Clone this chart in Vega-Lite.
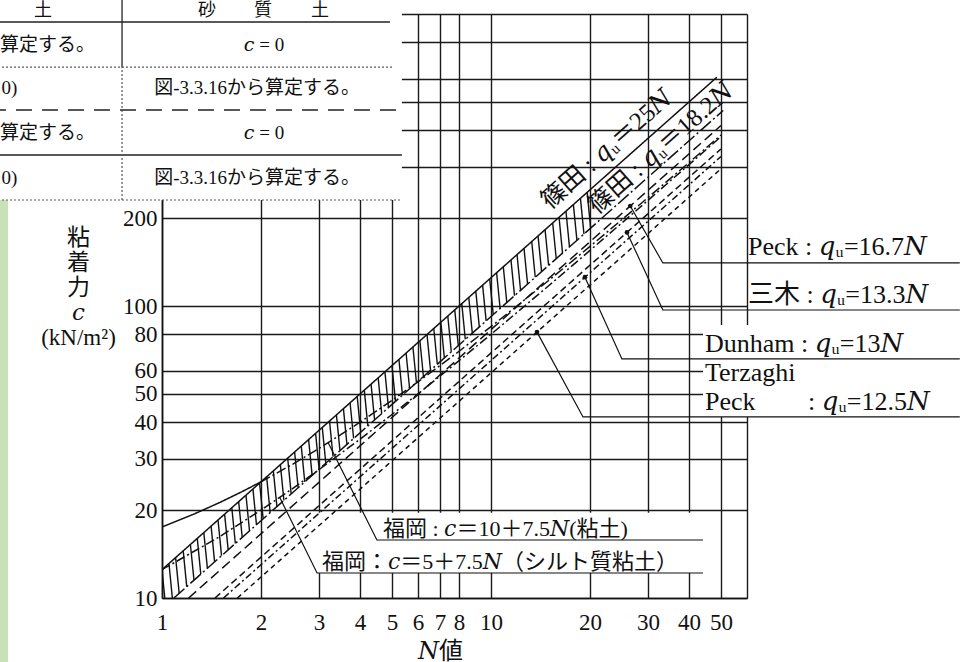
{
  "$schema": "https://vega.github.io/schema/vega-lite/v6.json",
  "width": 585,
  "height": 584,
  "autosize": {"type": "none"},
  "padding": {"left": 162, "top": 14, "right": 215, "bottom": 64},
  "background": "white",
  "config": {
    "view": {"stroke": null},
    "text": {"font": "Liberation Serif, DejaVu Serif, Noto Sans CJK JP", "color": "#111"}
  },
  "datasets": {
    "lines": [
      {"s": "篠田25N", "n": 1, "c": 12.5}, {"s": "篠田25N", "n": 48.6, "c": 607.5},
      {"s": "篠田18.2N", "n": 1.087, "c": 10}, {"s": "篠田18.2N", "n": 50.8, "c": 467.4},
      {"s": "Peck16.7N", "n": 1.205, "c": 10}, {"s": "Peck16.7N", "n": 50, "c": 415},
      {"s": "三木13.3N", "n": 1.449, "c": 10}, {"s": "三木13.3N", "n": 50, "c": 345},
      {"s": "Dunham13N", "n": 1.538, "c": 10}, {"s": "Dunham13N", "n": 50, "c": 325},
      {"s": "TerzaghiPeck12.5N", "n": 1.695, "c": 10}, {"s": "TerzaghiPeck12.5N", "n": 50, "c": 295},
      {"s": "福岡粘土(N≤2)", "n": 1, "c": 17.5}, {"s": "福岡粘土(N≤2)", "n": 1.25, "c": 19.375},
      {"s": "福岡粘土(N≤2)", "n": 1.5, "c": 21.25}, {"s": "福岡粘土(N≤2)", "n": 1.75, "c": 23.125},
      {"s": "福岡粘土(N≤2)", "n": 2, "c": 25},
      {"s": "福岡粘土(N≥2)", "n": 2, "c": 25}, {"s": "福岡粘土(N≥2)", "n": 2.5, "c": 28.75},
      {"s": "福岡粘土(N≥2)", "n": 3, "c": 32.5}, {"s": "福岡粘土(N≥2)", "n": 4, "c": 40},
      {"s": "福岡粘土(N≥2)", "n": 5, "c": 47.5}, {"s": "福岡粘土(N≥2)", "n": 6, "c": 55},
      {"s": "福岡粘土(N≥2)", "n": 8, "c": 70}, {"s": "福岡粘土(N≥2)", "n": 10, "c": 85},
      {"s": "福岡粘土(N≥2)", "n": 15, "c": 122.5}, {"s": "福岡粘土(N≥2)", "n": 20, "c": 160},
      {"s": "福岡粘土(N≥2)", "n": 30, "c": 235}, {"s": "福岡粘土(N≥2)", "n": 40, "c": 310},
      {"s": "福岡粘土(N≥2)", "n": 50, "c": 385},
      {"s": "福岡シルト質粘土", "n": 1, "c": 12.5}, {"s": "福岡シルト質粘土", "n": 1.5, "c": 16.25},
      {"s": "福岡シルト質粘土", "n": 2, "c": 20}, {"s": "福岡シルト質粘土", "n": 2.5, "c": 23.75},
      {"s": "福岡シルト質粘土", "n": 3, "c": 27.5}, {"s": "福岡シルト質粘土", "n": 4, "c": 35},
      {"s": "福岡シルト質粘土", "n": 5, "c": 42.5}, {"s": "福岡シルト質粘土", "n": 6, "c": 50},
      {"s": "福岡シルト質粘土", "n": 8, "c": 65}, {"s": "福岡シルト質粘土", "n": 10, "c": 80},
      {"s": "福岡シルト質粘土", "n": 15, "c": 117.5}, {"s": "福岡シルト質粘土", "n": 20, "c": 155},
      {"s": "福岡シルト質粘土", "n": 30, "c": 230}, {"s": "福岡シルト質粘土", "n": 40, "c": 305},
      {"s": "福岡シルト質粘土", "n": 50, "c": 380}
    ],
    "hatch": [
      {"n": 1.00, "c": 12.5, "n2": 1.025, "c2": 9.43},
      {"n": 1.05, "c": 13.13, "n2": 1.076, "c2": 9.90},
      {"n": 1.10, "c": 13.75, "n2": 1.128, "c2": 10.37},
      {"n": 1.16, "c": 14.5, "n2": 1.189, "c2": 10.94},
      {"n": 1.22, "c": 15.25, "n2": 1.251, "c2": 11.50},
      {"n": 1.28, "c": 16.0, "n2": 1.312, "c2": 12.07},
      {"n": 1.34, "c": 16.75, "n2": 1.374, "c2": 12.64},
      {"n": 1.41, "c": 17.63, "n2": 1.445, "c2": 13.30},
      {"n": 1.48, "c": 18.5, "n2": 1.517, "c2": 13.96},
      {"n": 1.55, "c": 19.38, "n2": 1.589, "c2": 14.62},
      {"n": 1.63, "c": 20.38, "n2": 1.671, "c2": 15.37},
      {"n": 1.71, "c": 21.38, "n2": 1.753, "c2": 16.13},
      {"n": 1.80, "c": 22.5, "n2": 1.845, "c2": 16.97},
      {"n": 1.89, "c": 23.63, "n2": 1.937, "c2": 17.82},
      {"n": 1.98, "c": 24.75, "n2": 2.030, "c2": 18.67},
      {"n": 2.08, "c": 26.0, "n2": 2.132, "c2": 19.61},
      {"n": 2.18, "c": 27.25, "n2": 2.235, "c2": 20.56},
      {"n": 2.29, "c": 28.63, "n2": 2.347, "c2": 21.59},
      {"n": 2.41, "c": 30.13, "n2": 2.470, "c2": 22.73},
      {"n": 2.53, "c": 31.63, "n2": 2.593, "c2": 23.86},
      {"n": 2.65, "c": 33.13, "n2": 2.716, "c2": 24.99},
      {"n": 2.79, "c": 34.88, "n2": 2.860, "c2": 26.31},
      {"n": 2.93, "c": 36.63, "n2": 3.003, "c2": 27.63},
      {"n": 3.07, "c": 38.38, "n2": 3.147, "c2": 28.95},
      {"n": 3.23, "c": 40.38, "n2": 3.311, "c2": 30.46},
      {"n": 3.39, "c": 42.38, "n2": 3.475, "c2": 31.97},
      {"n": 3.56, "c": 44.5, "n2": 3.649, "c2": 33.57},
      {"n": 3.73, "c": 46.63, "n2": 3.823, "c2": 35.17},
      {"n": 3.92, "c": 49.0, "n2": 4.018, "c2": 36.97},
      {"n": 4.12, "c": 51.5, "n2": 4.223, "c2": 38.85},
      {"n": 4.32, "c": 54.0, "n2": 4.428, "c2": 40.74},
      {"n": 4.54, "c": 56.75, "n2": 4.654, "c2": 42.81},
      {"n": 4.76, "c": 59.5, "n2": 4.879, "c2": 44.89},
      {"n": 5.00, "c": 62.5, "n2": 5.125, "c2": 47.15},
      {"n": 5.25, "c": 65.63, "n2": 5.381, "c2": 49.51},
      {"n": 5.52, "c": 69.0, "n2": 5.658, "c2": 52.05},
      {"n": 5.79, "c": 72.38, "n2": 5.935, "c2": 54.60},
      {"n": 6.08, "c": 76.0, "n2": 6.232, "c2": 57.33},
      {"n": 6.39, "c": 79.88, "n2": 6.550, "c2": 60.26},
      {"n": 6.70, "c": 83.75, "n2": 6.868, "c2": 63.18},
      {"n": 7.04, "c": 88.0, "n2": 7.216, "c2": 66.39},
      {"n": 7.39, "c": 92.38, "n2": 7.575, "c2": 69.69},
      {"n": 7.76, "c": 97.0, "n2": 7.954, "c2": 73.18},
      {"n": 8.15, "c": 101.9, "n2": 8.354, "c2": 76.86},
      {"n": 8.56, "c": 107.0, "n2": 8.774, "c2": 80.72},
      {"n": 8.99, "c": 112.4, "n2": 9.215, "c2": 84.78},
      {"n": 9.43, "c": 117.9, "n2": 9.666, "c2": 88.93},
      {"n": 9.91, "c": 123.9, "n2": 10.16, "c2": 93.45},
      {"n": 10.4, "c": 130.0, "n2": 10.66, "c2": 98.07},
      {"n": 10.9, "c": 136.3, "n2": 11.17, "c2": 102.8},
      {"n": 11.5, "c": 143.8, "n2": 11.79, "c2": 108.4},
      {"n": 12.0, "c": 150.0, "n2": 12.30, "c2": 113.2},
      {"n": 12.6, "c": 157.5, "n2": 12.92, "c2": 118.8},
      {"n": 13.3, "c": 166.3, "n2": 13.63, "c2": 125.4},
      {"n": 13.9, "c": 173.8, "n2": 14.25, "c2": 131.1},
      {"n": 14.6, "c": 182.5, "n2": 14.97, "c2": 137.7},
      {"n": 15.4, "c": 192.5, "n2": 15.79, "c2": 145.2},
      {"n": 16.1, "c": 201.3, "n2": 16.50, "c2": 151.8},
      {"n": 16.9, "c": 211.3, "n2": 17.32, "c2": 159.4},
      {"n": 17.8, "c": 222.5, "n2": 18.25, "c2": 167.8},
      {"n": 18.7, "c": 233.8, "n2": 19.17, "c2": 176.3},
      {"n": 19.6, "c": 245.0, "n2": 20.09, "c2": 184.8}
    ],
    "leaders": [
      {"id": "peck167", "o": 1, "n": 26.5, "c": 220}, {"id": "peck167", "o": 2, "n": 33.3, "c": 140.4}, {"id": "peck167", "o": 3, "n": 266, "c": 140.4},
      {"id": "miki", "o": 1, "n": 25.9, "c": 178.7}, {"id": "miki", "o": 2, "n": 33.3, "c": 96.9}, {"id": "miki", "o": 3, "n": 266, "c": 96.9},
      {"id": "dunham", "o": 1, "n": 19.3, "c": 125.5}, {"id": "dunham", "o": 2, "n": 25.0, "c": 65.9}, {"id": "dunham", "o": 3, "n": 266, "c": 65.9},
      {"id": "tp", "o": 1, "n": 13.8, "c": 81.4}, {"id": "tp", "o": 2, "n": 19.04, "c": 41.7}, {"id": "tp", "o": 3, "n": 266, "c": 41.7},
      {"id": "fk1", "o": 1, "n": 3.2, "c": 34}, {"id": "fk1", "o": 2, "n": 4.5, "c": 15.8}, {"id": "fk1", "o": 3, "n": 44.1, "c": 15.8},
      {"id": "fk2", "o": 1, "n": 2.28, "c": 22.1}, {"id": "fk2", "o": 2, "n": 2.96, "c": 12.18}, {"id": "fk2", "o": 3, "n": 44.1, "c": 12.18}
    ],
    "leaderTips": [
      {"n": 26.5, "c": 220},
      {"n": 25.9, "c": 178.7},
      {"n": 19.3, "c": 125.5},
      {"n": 13.8, "c": 81.4}
    ],
    "whiteBoxes": [
      {"n": 0.3, "n2": 5.36, "c": 230.7, "c2": 1200},
      {"n": 44.1, "n2": 300, "c": 41.7, "c2": 86.1},
      {"n": 2.98, "n2": 44.1, "c": 12.18, "c2": 19.6}
    ],
    "strip": [
      {"n": 0.3, "n2": 0.3404, "c": 5.5, "c2": 230.7}
    ],
    "rulesSolid": [
      {"n": 0.3, "n2": 4.93, "c": 939, "c2": 939},
      {"n": 0.3, "n2": 5.36, "c": 329, "c2": 329},
      {"n": 0.756, "n2": 0.756, "c": 658, "c2": 1200}
    ],
    "rulesDashed": [
      {"n": 0.3, "n2": 5.36, "c": 469, "c2": 469}
    ],
    "rulesDotted": [
      {"n": 0.3, "n2": 5.0, "c": 658, "c2": 658},
      {"n": 0.3, "n2": 5.36, "c": 230.7, "c2": 230.7},
      {"n": 0.756, "n2": 0.756, "c": 230.7, "c2": 658}
    ],
    "tableLeft": [
      {"t": "算定する。", "n": 0.322, "c": 783},
      {"t": "0)", "n": 0.325, "c": 558},
      {"t": "算定する。", "n": 0.322, "c": 391},
      {"t": "0)", "n": 0.325, "c": 274.5}
    ],
    "tableCenter": [
      {"t": "𝑐 = 0", "n": 2.042, "c": 783},
      {"t": "図-3.3.16から算定する。", "n": 1.945, "c": 558},
      {"t": "𝑐 = 0", "n": 2.042, "c": 391},
      {"t": "図-3.3.16から算定する。", "n": 1.945, "c": 274.5}
    ],
    "tableHead": [
      {"t": "土", "n": 0.4348, "c": 1100},
      {"t": "砂", "n": 1.370, "c": 1100},
      {"t": "質", "n": 2.028, "c": 1100},
      {"t": "土", "n": 3.021, "c": 1100}
    ],
    "bandLabels": [
      {"t": "篠田 : 𝑞ᵤ＝25𝑁", "n": 15.1, "c": 213},
      {"t": "篠田 : 𝑞ᵤ＝18.2𝑁", "n": 21.0, "c": 205}
    ],
    "sideLabels": [
      {"t": "Peck : 𝑞ᵤ=16.7𝑁", "n": 60.4, "c": 149.5},
      {"t": "三木 : 𝑞ᵤ=13.3𝑁", "n": 60.4, "c": 102.4},
      {"t": "Dunham : 𝑞ᵤ=13𝑁", "n": 44.7, "c": 69.6},
      {"t": "Terzaghi", "n": 44.7, "c": 55.4},
      {"t": "Peck", "n": 44.7, "c": 44.0},
      {"t": ": 𝑞ᵤ=12.5𝑁", "n": 91.9, "c": 44.0}
    ],
    "fukuokaLabels": [
      {"t": "福岡 : 𝑐＝10＋7.5𝑁(粘土)", "n": 4.696, "c": 16.3},
      {"t": "福岡：𝑐＝5＋7.5𝑁（シルト質粘土）", "n": 3.064, "c": 12.57}
    ]
  },
  "encoding": {
    "x": {
      "field": "n",
      "type": "quantitative",
      "scale": {"type": "log", "domain": [1, 60], "nice": false},
      "axis": {
        "values": [1, 2, 3, 4, 5, 6, 7, 8, 10, 20, 30, 40, 50, 60],
        "labelExpr": "datum.value < 60 ? '' + datum.value : ''",
        "grid": true,
        "gridColor": "#1a1a1a",
        "gridWidth": 1.4,
        "gridOpacity": 1,
        "ticks": false,
        "domainColor": "#111",
        "domainWidth": 1.6,
        "labelFont": "Liberation Serif",
        "labelFontSize": 23,
        "labelColor": "#111",
        "labelPadding": 13,
        "labelOverlap": false,
        "labelFlush": false,
        "labelBound": false,
        "title": "𝑁値",
        "titleFont": "Liberation Serif, DejaVu Serif, Noto Sans CJK JP",
        "titleFontSize": 24,
        "titleFontWeight": "normal",
        "titleColor": "#111",
        "titleX": 278,
        "titleY": 53,
        "titleAlign": "center",
        "titleBaseline": "middle"
      }
    },
    "y": {
      "field": "c",
      "type": "quantitative",
      "scale": {"type": "log", "domain": [10, 1000], "nice": false},
      "axis": {
        "values": [10, 20, 30, 40, 50, 60, 80, 100, 200, 300, 400, 500, 600, 800, 1000],
        "labelExpr": "datum.value <= 200 ? '' + datum.value : ''",
        "grid": true,
        "gridColor": "#1a1a1a",
        "gridWidth": 1.4,
        "gridOpacity": 1,
        "ticks": false,
        "domainColor": "#111",
        "domainWidth": 1.6,
        "labelFont": "Liberation Serif",
        "labelFontSize": 23,
        "labelColor": "#111",
        "labelPadding": 5,
        "labelOverlap": false,
        "labelFlush": false,
        "labelBound": false,
        "title": ["粘", "着", "力", "𝑐", "(kN/m²)"],
        "titleFont": "Liberation Serif, DejaVu Serif, Noto Sans CJK JP",
        "titleFontSize": 23,
        "titleFontWeight": "normal",
        "titleColor": "#111",
        "titleAngle": 0,
        "titleAlign": "center",
        "titleBaseline": "top",
        "titleLineHeight": 25,
        "titleX": -84,
        "titleY": 212
      }
    }
  },
  "layer": [
    {
      "data": {"name": "strip"},
      "mark": {"type": "rect", "color": "#c8e1b6"},
      "encoding": {"x2": {"field": "n2"}, "y2": {"field": "c2"}}
    },
    {
      "data": {"name": "whiteBoxes"},
      "mark": {"type": "rect", "color": "white"},
      "encoding": {"x2": {"field": "n2"}, "y2": {"field": "c2"}}
    },
    {
      "data": {"name": "hatch"},
      "mark": {"type": "rule", "color": "#111", "strokeWidth": 1.4, "clip": true},
      "encoding": {"x2": {"field": "n2"}, "y2": {"field": "c2"}}
    },
    {
      "data": {"name": "lines"},
      "mark": {"type": "line", "color": "#111", "strokeWidth": 1.5, "clip": true},
      "encoding": {
        "strokeDash": {
          "field": "s",
          "type": "nominal",
          "legend": null,
          "scale": {
            "domain": ["篠田25N", "篠田18.2N", "Peck16.7N", "三木13.3N", "Dunham13N", "TerzaghiPeck12.5N", "福岡粘土(N≤2)", "福岡粘土(N≥2)", "福岡シルト質粘土"],
            "range": [[1, 0], [14, 3, 2, 3], [10, 5], [7, 4], [7, 3, 2, 3], [5, 4], [1, 0], [10, 3, 2, 3], [9, 3, 2, 3]]
          }
        }
      }
    },
    {
      "data": {"name": "leaders"},
      "mark": {"type": "line", "color": "#111", "strokeWidth": 1.2},
      "encoding": {
        "detail": {"field": "id", "type": "nominal"},
        "order": {"field": "o", "type": "quantitative"}
      }
    },
    {
      "data": {"name": "leaderTips"},
      "mark": {"type": "point", "shape": "circle", "filled": true, "color": "#111", "size": 22, "opacity": 1},
      "encoding": {}
    },
    {
      "data": {"name": "bandLabels"},
      "mark": {"type": "text", "align": "left", "baseline": "alphabetic", "angle": -41.6, "fontSize": 25},
      "encoding": {"text": {"field": "t"}}
    },
    {
      "data": {"name": "fukuokaLabels"},
      "mark": {"type": "text", "align": "left", "baseline": "alphabetic", "fontSize": 22},
      "encoding": {"text": {"field": "t"}}
    },
    {
      "data": {"name": "sideLabels"},
      "mark": {"type": "text", "align": "left", "baseline": "alphabetic", "fontSize": 26},
      "encoding": {"text": {"field": "t"}}
    },
    {
      "data": {"name": "rulesSolid"},
      "mark": {"type": "rule", "color": "#222", "strokeWidth": 1.3},
      "encoding": {"x2": {"field": "n2"}, "y2": {"field": "c2"}}
    },
    {
      "data": {"name": "rulesDashed"},
      "mark": {"type": "rule", "color": "#222", "strokeWidth": 1.3, "strokeDash": [16, 10]},
      "encoding": {"x2": {"field": "n2"}, "y2": {"field": "c2"}}
    },
    {
      "data": {"name": "rulesDotted"},
      "mark": {"type": "rule", "color": "#555", "strokeWidth": 1.2, "strokeDash": [2, 2]},
      "encoding": {"x2": {"field": "n2"}, "y2": {"field": "c2"}}
    },
    {
      "data": {"name": "tableLeft"},
      "mark": {"type": "text", "align": "left", "baseline": "middle", "fontSize": 19},
      "encoding": {"text": {"field": "t"}}
    },
    {
      "data": {"name": "tableCenter"},
      "mark": {"type": "text", "align": "center", "baseline": "middle", "fontSize": 19},
      "encoding": {"text": {"field": "t"}}
    },
    {
      "data": {"name": "tableHead"},
      "mark": {"type": "text", "align": "center", "baseline": "top", "fontSize": 18},
      "encoding": {"text": {"field": "t"}}
    }
  ]
}
